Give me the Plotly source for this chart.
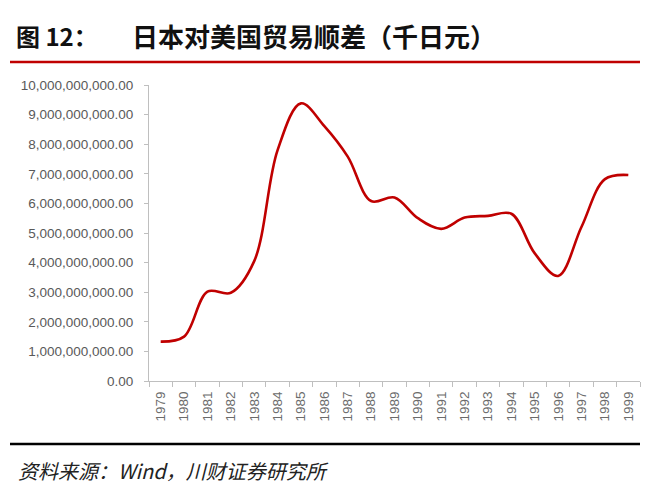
import plotly.graph_objects as go

years = [str(y) for y in range(1979, 2000)]
surplus = [1.33e9, 1.50e9, 3.02e9, 2.98e9, 4.05e9, 7.80e9, 9.38e9, 8.61e9, 7.58e9,
           6.08e9, 6.20e9, 5.50e9, 5.14e9, 5.52e9, 5.58e9, 5.65e9, 4.31e9, 3.55e9,
           5.21e9, 6.82e9, 6.96e9]
y_ticks = [i * 1e9 for i in range(0, 11)]

W, H = 660, 491
L, R, T, B = 149, 20, 85, 110
pw, ph = W - L - R, H - T - B

def px(x):
    return (x - L) / pw

def py(y):
    return (H - B - y) / ph

fig = go.Figure()
fig.add_trace(go.Scatter(
    x=years, y=surplus, mode="lines",
    line=dict(color="#C00000", width=2.6, shape="spline", smoothing=1.0),
    showlegend=False, hoverinfo="skip"))

fig.update_layout(
    width=W, height=H,
    margin=dict(l=L, r=R, t=T, b=B),
    paper_bgcolor="white", plot_bgcolor="white",
    font=dict(family="Liberation Sans, Arial, sans-serif", color="#595959"),
    annotations=[
        dict(text="<b>图 12：</b>", xref="paper", yref="paper",
             x=px(14), y=py(36), xanchor="left", yanchor="middle", showarrow=False,
             font=dict(family="Noto Sans CJK SC", size=24, color="#111111")),
        dict(text="<b>日本对美国贸易顺差（千日元）</b>", xref="paper", yref="paper",
             x=px(130), y=py(36), xanchor="left", yanchor="middle", showarrow=False,
             font=dict(family="Noto Sans CJK SC", size=26, color="#111111")),
        dict(text="<i>资料来源：Wind，川财证券研究所</i>", xref="paper", yref="paper",
             x=px(16), y=py(470), xanchor="left", yanchor="middle", showarrow=False,
             font=dict(family="Noto Sans CJK SC", size=20, color="#222222")),
    ],
    xaxis=dict(type="category", range=[-0.5, 20.5], showline=True,
               linecolor="#BFBFBF", linewidth=1, ticks="outside", tickson="boundaries",
               ticklen=5, tickcolor="#BFBFBF", tickangle=-90, ticklabelstandoff=4,
               tickfont=dict(size=13.5, color="#6b6b6b"), showgrid=False, zeroline=False),
    yaxis=dict(range=[0, 10e9], tickvals=y_ticks, tickformat=",.2f",
               showline=True, linecolor="#BFBFBF", linewidth=1, ticks="outside",
               ticklen=4, tickcolor="#BFBFBF", showgrid=False, zeroline=False,
               ticklabelstandoff=8,
               tickfont=dict(size=13.5, color="#595959")),
    shapes=[
        dict(type="line", xref="paper", yref="paper", x0=px(10), x1=px(640),
             y0=py(62), y1=py(62), line=dict(color="#C00000", width=2.5)),
        dict(type="line", xref="paper", yref="paper", x0=px(10), x1=px(640),
             y0=py(444), y1=py(444), line=dict(color="#000000", width=2.5)),
    ],
)

fig.write_html("out.html")
